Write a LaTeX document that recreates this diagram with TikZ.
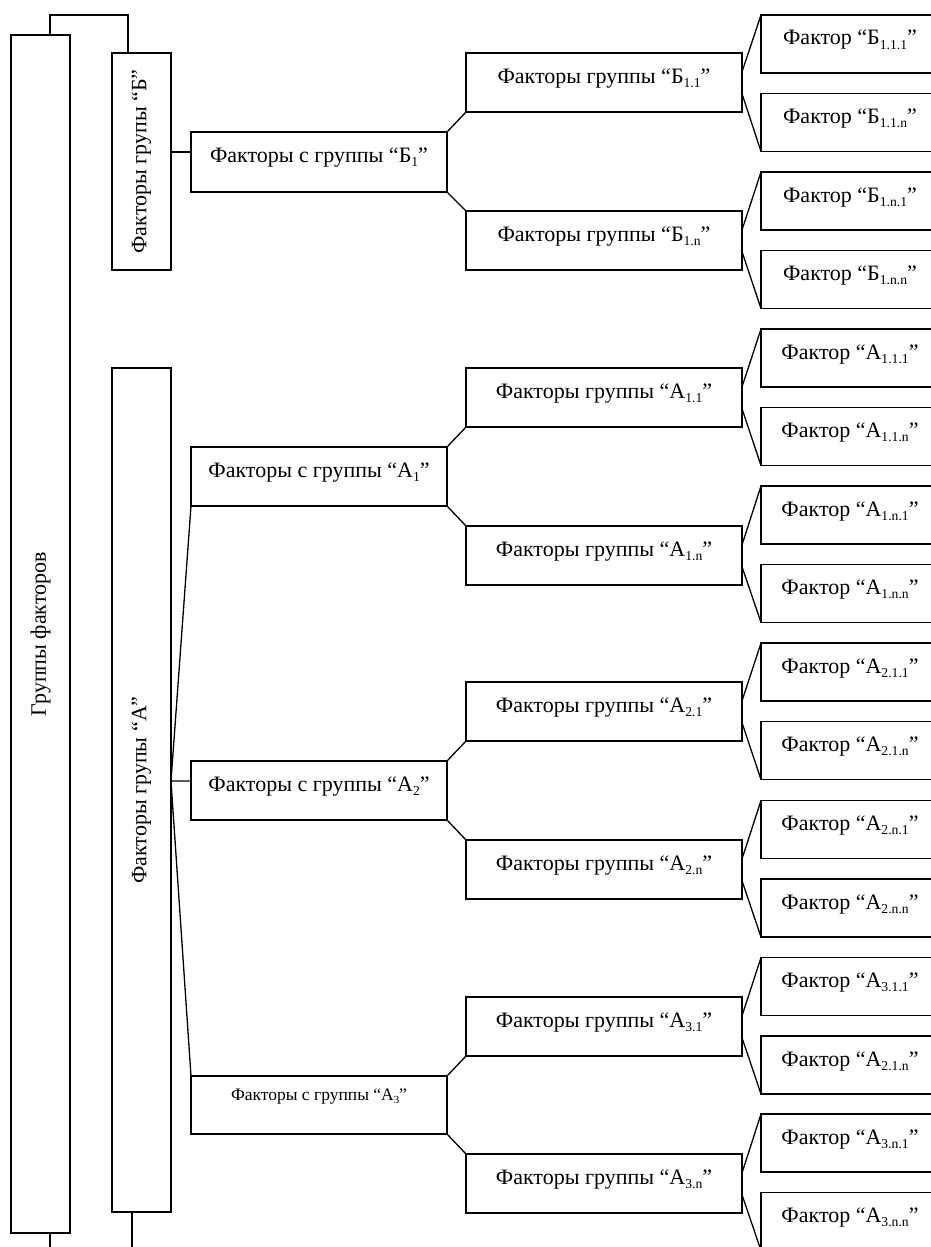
\documentclass[tikz,border=0pt]{standalone}
\usepackage{fontspec}
\setmainfont{Liberation Serif}
\usepackage{graphicx}
\usetikzlibrary{calc}
\newcommand\sbx[1]{\raisebox{-0.4ex}{\scalebox{0.62}{#1}}}
\newcommand\lbl[2]{“#1\sbx{#2}”}
\begin{document}
\begin{tikzpicture}[x=1pt,y=-1pt,line width=1.3pt,
  base/.style={draw,rectangle,inner sep=0pt,outer sep=0pt,anchor=north west,
    font=\fontsize{22}{24}\selectfont},
  vbox/.style={base,minimum width=59pt},
  lvlsmall/.style={base,minimum width=256pt,text height=24pt,text depth=34pt,
    font=\fontsize{17.5}{20}\selectfont},
  midbox/.style={base,minimum width=276pt,text height=30pt,text depth=29pt},
  leafbox/.style={base,minimum width=178pt,text height=30pt,text depth=28pt}]
\useasboundingbox (0,0) rectangle (931,1247);
\clip (0,0) rectangle (931,1247);
% vertical boxes
\node[vbox,minimum height=1198pt] (G) at (11,35) {\rotatebox{90}{Группы факторов}};
\node[vbox,minimum height=217pt] (B) at (112,53) {\rotatebox{90}{Факторы групы “Б”}};
\node[vbox,minimum height=844pt] (A) at (112,368) {\rotatebox{90}{Факторы групы “А”}};
% level one
\node[midbox,minimum width=256pt,minimum height=60pt,text depth=30pt] (p1) at (191,132) {Факторы с группы \lbl{Б}{1}};
\node[midbox,minimum width=256pt] (p2) at (191,447) {Факторы с группы \lbl{А}{1}};
\node[midbox,minimum width=256pt] (p3) at (191,761) {Факторы с группы \lbl{А}{2}};
\node[lvlsmall] (p4) at (191,1076) {Факторы с группы \lbl{А}{3}};
% middle level
\foreach \i/\t/\L/\s in {1/53/Б/1.1,2/211/Б/1.n,3/368/А/1.1,4/526/А/1.n,
  5/682/А/2.1,6/840/А/2.n,7/997/А/3.1,8/1154/А/3.n}
  \node[midbox] (m\i) at (466,\t) {Факторы группы \lbl{\L}{\s}};
% leaves
\foreach \i/\t/\L/\s in {1/15/Б/1.1.1,2/93.5/Б/1.1.n,3/172/Б/1.n.1,4/250.5/Б/1.n.n,
  5/329/А/1.1.1,6/407.5/А/1.1.n,7/486/А/1.n.1,8/564.5/А/1.n.n,
  9/643/А/2.1.1,10/721.5/А/2.1.n,11/800.5/А/2.n.1,12/879/А/2.n.n,
  13/957.5/А/3.1.1,14/1036/А/2.1.n,15/1114/А/3.n.1,16/1192.5/А/3.n.n}
  \node[leafbox] (l\i) at (761,\t) {Фактор \lbl{\L}{\s}};
% top and bottom connectors of the vertical boxes
\coordinate (gt) at ($(G.north west)!0.66!(G.north east)$);
\coordinate (bt) at ($(B.north west)!0.27!(B.north east)$);
\draw (gt) -- ($(gt)+(0,-20)$) -| (bt);
\coordinate (gb) at ($(G.south west)!0.66!(G.south east)$);
\coordinate (ab) at ($(A.south west)!0.34!(A.south east)$);
\draw (gb) -- ($(gb)+(0,60)$) -| (ab);
% vertical boxes to level one
\coordinate (b1in) at ($(p1.north west)!0.333!(p1.south west)$);
\draw (B.east |- b1in) -- (b1in);
\coordinate (a2in) at ($(p3.north west)!0.34!(p3.south west)$);
\draw (p2.south west) -- (A.east |- a2in) -- (a2in);
\draw (A.east |- a2in) -- (p4.north west);
% level one to middle
\foreach \p/\u/\d in {1/1/2,2/3/4,3/5/6,4/7/8}{
  \draw (p\p.north east) -- (m\u.south west);
  \draw (p\p.south east) -- (m\d.north west);
}
% middle to leaves
\foreach \m/\u/\d in {1/1/2,2/3/4,3/5/6,4/7/8,5/9/10,6/11/12,7/13/14,8/15/16}{
  \draw ($(m\m.north east)!0.32!(m\m.south east)$) -- (l\u.north west);
  \draw ($(m\m.north east)!0.69!(m\m.south east)$) -- (l\d.south west);
}
\end{tikzpicture}
\end{document}
